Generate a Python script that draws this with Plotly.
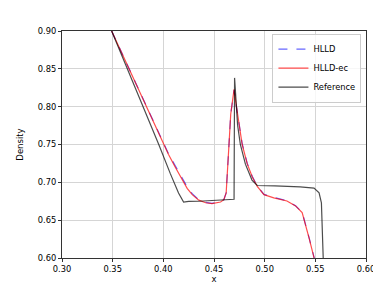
import plotly.graph_objects as go

# HLLD-ec (red) solution
hllec_x = [0.349, 0.37, 0.385, 0.3955, 0.400, 0.405, 0.4118, 0.4184, 0.4235, 0.4285, 0.435, 0.4417, 0.448,
           0.4565, 0.4597, 0.462, 0.4638, 0.4648, 0.4665, 0.4685, 0.4698, 0.4715, 0.4746, 0.4778, 0.4828,
           0.4877, 0.4927, 0.4993, 0.509, 0.516, 0.522, 0.5305, 0.537, 0.5439, 0.5488, 0.552]
hllec_y = [0.900, 0.838, 0.794, 0.763, 0.750, 0.737, 0.720, 0.703, 0.692, 0.6838, 0.6765, 0.673, 0.672,
           0.674, 0.677, 0.686, 0.720, 0.750, 0.790, 0.815, 0.823, 0.806, 0.7756, 0.750, 0.7244,
           0.7073, 0.6945, 0.6837, 0.6795, 0.6775, 0.6753, 0.6688, 0.660, 0.626, 0.600, 0.575]

# HLLD (blue dashed) solution
hlld_x = [0.349, 0.37, 0.385, 0.3955, 0.400, 0.405, 0.4118, 0.4184, 0.4235, 0.4285, 0.435, 0.4417, 0.448,
          0.4565, 0.4597, 0.462, 0.4638, 0.4648, 0.4665, 0.4685, 0.4698, 0.4715, 0.4746, 0.4778, 0.4828,
          0.4877, 0.4927, 0.4993, 0.509, 0.516, 0.522, 0.5305, 0.537, 0.5439, 0.5488, 0.552]
hlld_y = [0.900, 0.839, 0.795, 0.764, 0.751, 0.738, 0.722, 0.705, 0.694, 0.685, 0.677, 0.6735, 0.6722,
          0.6742, 0.677, 0.686, 0.720, 0.750, 0.790, 0.814, 0.822, 0.806, 0.776, 0.751, 0.725,
          0.708, 0.695, 0.684, 0.680, 0.678, 0.6757, 0.669, 0.6605, 0.6265, 0.6005, 0.575]

# Reference (exact) solution
ref_x = [0.349, 0.37, 0.3955, 0.4069, 0.415, 0.420, 0.425, 0.435, 0.45, 0.4646, 0.4698, 0.4703, 0.4733,
         0.476, 0.481, 0.4875, 0.4927, 0.51, 0.535, 0.5487, 0.5537, 0.556, 0.5569, 0.5576, 0.5585]
ref_y = [0.900, 0.833, 0.750, 0.7115, 0.686, 0.674, 0.6748, 0.675, 0.676, 0.6773, 0.6776, 0.838, 0.7756,
         0.750, 0.724, 0.703, 0.6958, 0.6953, 0.694, 0.6923, 0.686, 0.673, 0.640, 0.600, 0.570]

x_ticks = [0.30, 0.35, 0.40, 0.45, 0.50, 0.55, 0.60]
y_ticks = [0.60, 0.65, 0.70, 0.75, 0.80, 0.85, 0.90]

fig = go.Figure()
fig.add_trace(go.Scatter(x=hlld_x, y=hlld_y, mode="lines", name="HLLD",
                         line=dict(color="rgba(0,0,255,0.6)", width=1.2, dash="dash")))
fig.add_trace(go.Scatter(x=hllec_x, y=hllec_y, mode="lines", name="HLLD-ec",
                         line=dict(color="rgba(255,0,0,0.7)", width=1.2)))
fig.add_trace(go.Scatter(x=ref_x, y=ref_y, mode="lines", name="Reference",
                         line=dict(color="rgba(0,0,0,0.7)", width=1.2)))

font = "DejaVu Sans"
fig.update_layout(
    width=381, height=286,
    margin=dict(l=53, r=23, t=23, b=29),
    paper_bgcolor="white", plot_bgcolor="white",
    font=dict(family=font, size=8.3, color="black"),
    showlegend=True,
    legend=dict(x=0.985, y=0.988, xanchor="right", yanchor="top",
                bgcolor="rgba(255,255,255,0.8)", bordercolor="#cccccc", borderwidth=1,
                font=dict(family=font, size=8.3), itemwidth=30, tracegroupgap=0),
)
fig.update_xaxes(range=[0.30, 0.60], tickvals=x_ticks, ticktext=[f"{v:.2f}" for v in x_ticks],
                 showgrid=True, gridcolor="#d5d5d5", gridwidth=1, zeroline=False,
                 showline=True, linecolor="#333333", linewidth=1, mirror=True,
                 ticks="outside", ticklen=3, tickcolor="#333333",
                 tickfont=dict(family=font, size=8.3),
                 title=dict(text="x", font=dict(family=font, size=8.5), standoff=2))
fig.update_yaxes(range=[0.60, 0.90], tickvals=y_ticks, ticktext=[f"{v:.2f}" for v in y_ticks],
                 showgrid=True, gridcolor="#d5d5d5", gridwidth=1, zeroline=False,
                 showline=True, linecolor="#333333", linewidth=1, mirror=True,
                 ticks="outside", ticklen=3, tickcolor="#333333",
                 tickfont=dict(family=font, size=8.3),
                 title=dict(text="Density", font=dict(family=font, size=8.5), standoff=12))

fig.write_html("out.html")
